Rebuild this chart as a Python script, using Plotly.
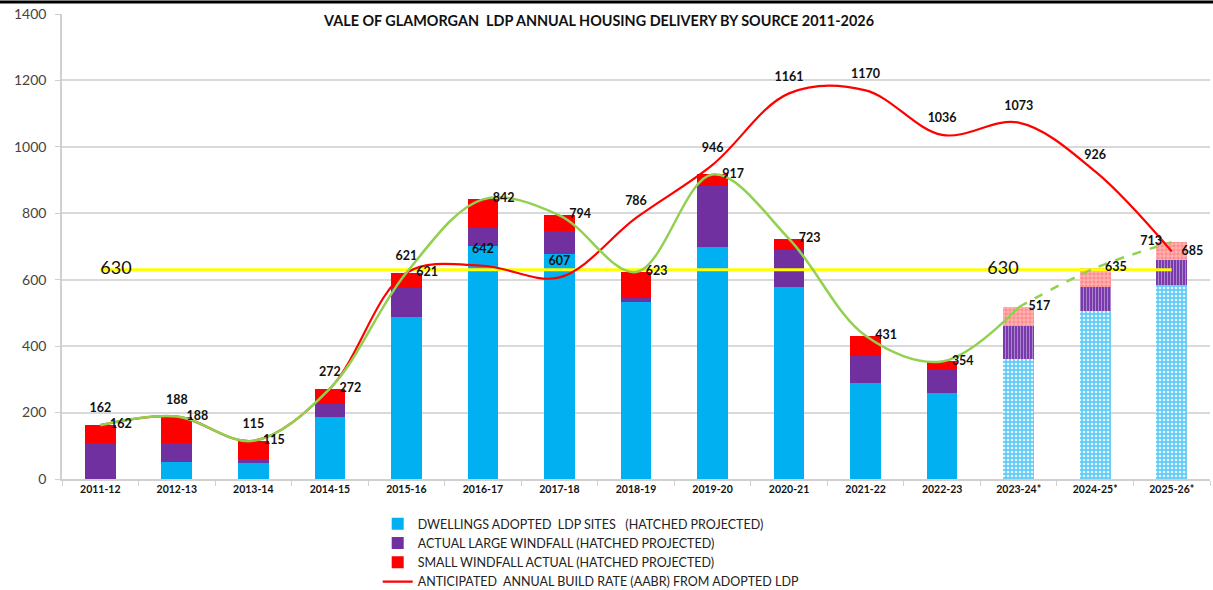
import plotly.graph_objects as go

# ---------------- data ----------------
years = ["2011-12", "2012-13", "2013-14", "2014-15", "2015-16", "2016-17", "2017-18",
         "2018-19", "2019-20", "2020-21", "2021-22", "2022-23", "2023-24*", "2024-25*", "2025-26*"]
ldp_sites = [0, 52, 49, 186, 489, 703, 676, 534, 698, 579, 289, 259, 360, 506, 584]
large_windfall = [107, 55, 11, 41, 87, 54, 71, 11, 185, 111, 81, 72, 102, 73, 76]
small_windfall = [55, 81, 55, 45, 45, 85, 47, 78, 34, 33, 61, 23, 55, 56, 53]
total_delivery = [162, 188, 115, 272, 621, 842, 794, 623, 917, 723, 431, 354, 517, 635, 713]
aabr = [162, 188, 115, 272, 621, 642, 607, 786, 946, 1161, 1170, 1036, 1073, 926, 685]
target = [630] * 15
projected = [False] * 12 + [True] * 3

FONT = "Lato"
LBL = dict(size=12.5, color="#111111", family=FONT, weight="bold")
CLEAR = "rgba(0,0,0,0)"

fig = go.Figure()

series = [
    ("DWELLINGS ADOPTED  LDP SITES   (HATCHED PROJECTED)", ldp_sites, "#00b0f0",
     dict(shape=".", bgcolor="#62ccf4", fgcolor="#e6f8ff", size=4, solidity=0.35)),
    ("ACTUAL LARGE WINDFALL (HATCHED PROJECTED)", large_windfall, "#7030a0",
     dict(shape="|", bgcolor="#7a3aac", fgcolor="#a986cc", size=3, solidity=0.35)),
    ("SMALL WINDFALL ACTUAL (HATCHED PROJECTED)", small_windfall, "#ff0000",
     dict(shape="+", bgcolor="#ff8c8c", fgcolor="#ffd0d0", size=4, solidity=0.3)),
]

# actual (solid) bars
for name, vals, solid, _ in series:
    fig.add_trace(go.Bar(
        x=years, y=[None if p else v for v, p in zip(vals, projected)],
        name=name, width=0.4, marker=dict(color=solid, line=dict(width=0)),
        legendgroup=name))

# projected (hatched) bars
for name, vals, solid, pat in series:
    fig.add_trace(go.Bar(
        x=years, y=[v if p else None for v, p in zip(vals, projected)],
        name=name, width=0.4, showlegend=False, legendgroup=name,
        marker=dict(color=pat["bgcolor"], line=dict(width=0),
                    pattern=dict(fillmode="replace", **pat))))

# target line
t_text = ["630"] + [""] * 11 + ["630", "", ""]
t_pos = ["middle right"] * 12 + ["middle left", "middle right", "middle right"]
fig.add_trace(go.Scatter(
    x=years, y=target, mode="lines+text", text=t_text, textposition=t_pos,
    textfont=dict(size=18, color="#111111", family=FONT),
    line=dict(color="#ffff00", width=3), showlegend=False, hoverinfo="skip"))

# AABR red line
a_pos = ["top center"] * 14 + ["middle right"]
fig.add_trace(go.Scatter(
    x=years, y=aabr, mode="lines+markers+text", text=[str(v) for v in aabr], textposition=a_pos,
    textfont=LBL, marker=dict(size=14, color=CLEAR, line=dict(width=0)),
    line=dict(color="#ff0000", width=2.2, shape="spline", smoothing=1.0),
    name="ANTICIPATED  ANNUAL BUILD RATE (AABR) FROM ADOPTED LDP"))

# total delivery green line (solid actual, dashed projected)
n_solid = 13
g_text = [str(v) for v in total_delivery]
fig.add_trace(go.Scatter(
    x=years[:n_solid], y=total_delivery[:n_solid], mode="lines+markers+text",
    text=g_text[:n_solid], textposition="middle right",
    textfont=LBL, marker=dict(size=14, color=CLEAR, line=dict(width=0)),
    line=dict(color="#92d050", width=2.5, shape="spline", smoothing=1.0),
    showlegend=False))
fig.add_trace(go.Scatter(
    x=years[n_solid - 1:], y=total_delivery[n_solid - 1:], mode="lines+markers+text",
    text=[""] + g_text[n_solid:], textposition=["middle right", "middle right", "middle left"],
    textfont=LBL, marker=dict(size=14, color=CLEAR, line=dict(width=0)),
    line=dict(color="#92d050", width=2.5, dash="dash", shape="spline", smoothing=1.0),
    showlegend=False))

fig.add_annotation(
    text="<b>VALE OF GLAMORGAN  LDP ANNUAL HOUSING DELIVERY BY SOURCE 2011-2026</b>",
    xref="paper", yref="paper", x=0.467, y=0.987, yanchor="middle", showarrow=False,
    font=dict(size=14.4, color="#111111", family=FONT))

# frame line at top
fig.add_shape(type="line", xref="paper", yref="paper", x0=-0.06, x1=1.01,
              y0=1.026, y1=1.026, line=dict(color="black", width=3))

fig.update_layout(
    width=1213, height=590,
    margin=dict(l=62, r=3, t=14, b=111, autoexpand=False),
    barmode="stack",
    plot_bgcolor="white", paper_bgcolor="white",
    font=dict(family=FONT, color="#222222"),
    legend=dict(x=0.275, y=-0.065, xanchor="left", yanchor="top",
                traceorder="normal", orientation="v",
                font=dict(size=12.5, color="#222222", family=FONT),
                itemwidth=30, tracegroupgap=0, bgcolor="rgba(0,0,0,0)"),
    xaxis=dict(type="category", range=[-0.5, 14.5], tickson="boundaries",
               ticks="outside", ticklen=5,
               tickcolor="#d0d0d0", showline=True, linecolor="#d0d0d0", linewidth=1.5,
               tickfont=dict(size=10.5, color="#111111", family=FONT, weight="bold"),
               showgrid=False),
    yaxis=dict(range=[0, 1400], dtick=200, showgrid=True, gridcolor="#d9d9d9", gridwidth=1.5,
               showline=True, linecolor="#d0d0d0", linewidth=1.5, zeroline=False,
               ticks="outside", ticklen=5, tickcolor="#d0d0d0", ticklabelstandoff=6,
               tickfont=dict(size=14, color="#444444", family=FONT)),
)

fig.write_html("out.html", config={"displayModeBar": False},
               post_script="document.body.style.margin='0';document.body.style.overflow='hidden';")
